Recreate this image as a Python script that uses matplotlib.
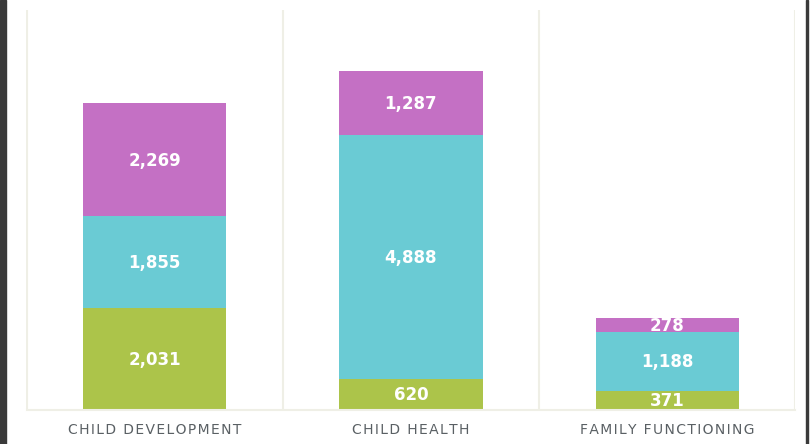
import matplotlib.pyplot as plt
import numpy as np

categories = ["CHILD DEVELOPMENT", "CHILD HEALTH", "FAMILY FUNCTIONING"]
green_vals = [2031, 620, 371]
cyan_vals = [1855, 4888, 1188]
purple_vals = [2269, 1287, 278]

colors = ["#acc44a", "#6acbd4", "#c470c4"]
grid_col = "#efefe6"

fig = plt.figure(figsize=(8.12, 4.44), dpi=100)
fig.patch.set_facecolor("white")

# dark strips at the edges of the screenshot
fig.patches.append(plt.Rectangle((0, 0), 5.5 / 812, 1, transform=fig.transFigure,
                                 color="#3a3a3a", zorder=0))
fig.patches.append(plt.Rectangle((806 / 812, 0), 2 / 812, 1, transform=fig.transFigure,
                                 color="#3a3a3a", zorder=0))

ax = fig.add_axes([26.5 / 812, 1 - 409.5 / 444, 769 / 812, 399.5 / 444])
x = np.arange(len(categories))
bottom = np.zeros(len(categories))

for vals, col in zip([green_vals, cyan_vals, purple_vals], colors):
    bars = ax.bar(x, vals, width=0.56, bottom=bottom, color=col, zorder=2)
    for b, v, bt in zip(bars, vals, bottom):
        t = ax.text(b.get_x() + b.get_width() / 2, bt + v / 2 - 20, f"{v:,}",
                    ha="center", va="center", color="white",
                    fontsize=12, fontweight="bold", zorder=3)
        t.set_clip_path(b)
    bottom = bottom + np.array(vals)

ax.set_xlim(-0.5, 2.5)
ax.set_ylim(0, 8030)
for s in ["top", "left", "right"]:
    ax.spines[s].set_visible(False)
ax.spines["bottom"].set_color(grid_col)
ax.spines["bottom"].set_linewidth(1.5)
for xv in [-0.5, 0.5, 1.5, 2.5]:
    ax.axvline(xv, color=grid_col, lw=1.5, zorder=1)

# letter-spaced tick labels (hair space between characters)
spaced = ["\u200a".join(c) for c in categories]
ax.set_yticks([])
ax.set_xticks(x)
ax.set_xticklabels(spaced, fontsize=10, color="#5a6064")
ax.tick_params(axis="x", length=0, pad=10)

fig.savefig("out.png", dpi=100)
